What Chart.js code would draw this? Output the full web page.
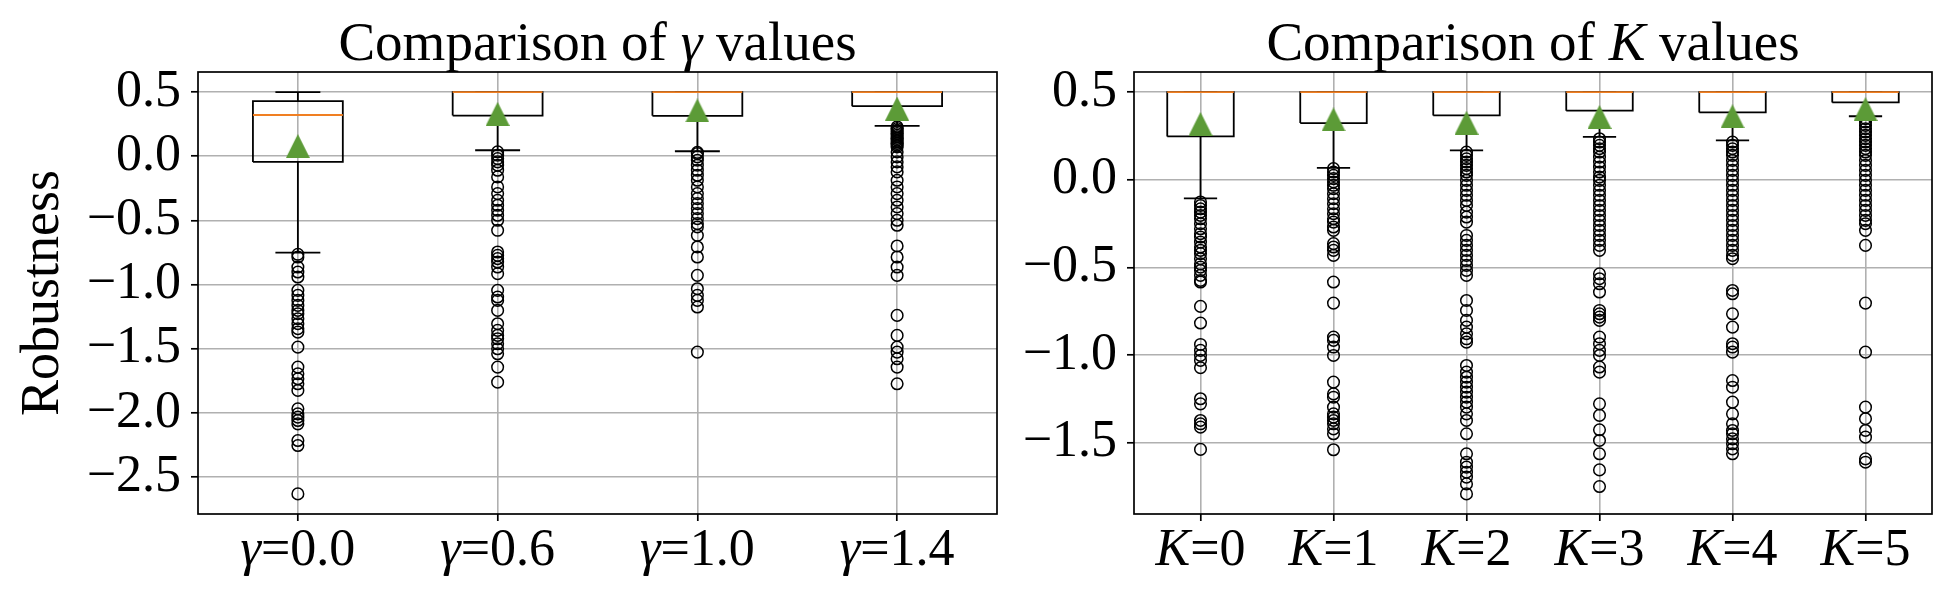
<!DOCTYPE html>
<html>
<head>
<meta charset="utf-8">
<script src="https://cdn.jsdelivr.net/npm/chart.js@4.4.1/dist/chart.umd.min.js"></script>
<style>
  body { margin: 0; background: #fff; width: 1950px; height: 600px; overflow: hidden; }
  .panel { position: absolute; top: 0; height: 600px; }
  #left { left: 0; width: 1010px; }
  #right { left: 1010px; width: 940px; }
</style>
</head>
<body>
<div class="panel" id="left"><canvas id="gammaChart"></canvas></div>
<div class="panel" id="right"><canvas id="kChart"></canvas></div>
<script>
// ---- gamma comparison ----
const gammaLabels = ['0.0', '0.6', '1.0', '1.4'];
const gammaQ1 = [-0.044, 0.317, 0.315, 0.390];
const gammaMedian = [0.322, 0.5, 0.5, 0.5];
const gammaQ3 = [0.43, 0.5, 0.5, 0.5];
const gammaMean = [0.079, 0.33, 0.357, 0.372];
const gammaWhiskLo = [-0.751, 0.047, 0.039, 0.237];
const gammaWhiskHi = [0.5, 0.5, 0.5, 0.5];
const gammaTicks = [0.5, 0, -0.5, -1, -1.5, -2, -2.5];

const fliersGamma00 = [-0.764, -0.785, -0.863, -0.902, -0.941, -1.045, -1.084, -1.123, -1.162, -1.201,
  -1.227, -1.266, -1.305, -1.344, -1.370, -1.487, -1.643, -1.695, -1.734, -1.773, -1.825, -1.968,
  -2.007, -2.033, -2.059, -2.085, -2.215, -2.254, -2.631];
const fliersGamma06 = [0.034, 0.008, -0.018, -0.044, -0.070, -0.109, -0.161, -0.239, -0.291, -0.343,
  -0.382, -0.421, -0.460, -0.499, -0.577, -0.746, -0.772, -0.798, -0.824, -0.863, -0.915, -1.045,
  -1.097, -1.123, -1.201, -1.305, -1.357, -1.396, -1.422, -1.461, -1.500, -1.539, -1.643, -1.760];
const fliersGamma10 = [0.030, 0.021, -0.005, -0.031, -0.070, -0.109, -0.148, -0.187, -0.239, -0.291,
  -0.330, -0.369, -0.408, -0.447, -0.486, -0.525, -0.551, -0.616, -0.707, -0.785, -0.928, -1.032,
  -1.084, -1.123, -1.175, -1.526];
const fliersGamma14 = [0.229, 0.216, 0.203, 0.190, 0.177, 0.164, 0.151, 0.138, 0.125, 0.112, 0.099,
  0.086, 0.073, 0.034, -0.005, -0.044, -0.083, -0.122, -0.187, -0.239, -0.291, -0.343, -0.395, -0.447,
  -0.499, -0.538, -0.699, -0.785, -0.863, -0.928, -1.240, -1.396, -1.487, -1.526, -1.578, -1.643, -1.773];

// ---- K comparison ----
const kLabels = ['0', '1', '2', '3', '4', '5'];
const kQ1 = [0.247, 0.323, 0.367, 0.394, 0.384, 0.441];
const kMedian = [0.5, 0.5, 0.5, 0.5, 0.5, 0.5];
const kQ3 = [0.5, 0.5, 0.5, 0.5, 0.5, 0.5];
const kMean = [0.318, 0.344, 0.325, 0.358, 0.362, 0.403];
const kWhiskLo = [-0.107, 0.067, 0.167, 0.245, 0.225, 0.362];
const kWhiskHi = [0.5, 0.5, 0.5, 0.5, 0.5, 0.5];
const kTicks = [0.5, 0, -0.5, -1, -1.5];

const fliersK0 = [-0.127, -0.147, -0.166, -0.185, -0.204, -0.223, -0.251, -0.280, -0.308, -0.327,
  -0.356, -0.384, -0.403, -0.422, -0.451, -0.480, -0.499, -0.518, -0.546, -0.575, -0.584, -0.723,
  -0.818, -0.940, -0.974, -1.003, -1.031, -1.073, -1.250, -1.279, -1.374, -1.393, -1.412, -1.539];
const fliersK1 = [0.063, 0.044, 0.025, 0.006, -0.013, -0.032, -0.051, -0.080, -0.108, -0.137, -0.166,
  -0.194, -0.223, -0.242, -0.270, -0.289, -0.365, -0.384, -0.403, -0.432, -0.584, -0.704, -0.898,
  -0.917, -0.955, -1.003, -1.155, -1.222, -1.241, -1.298, -1.336, -1.355, -1.374, -1.393, -1.422,
  -1.450, -1.541];
const fliersK2 = [0.158, 0.139, 0.120, 0.101, 0.082, 0.063, 0.044, 0.025, -0.004, -0.032, -0.061,
  -0.089, -0.118, -0.147, -0.185, -0.213, -0.242, -0.318, -0.346, -0.375, -0.403, -0.432, -0.461,
  -0.489, -0.518, -0.546, -0.689, -0.746, -0.803, -0.841, -0.879, -0.908, -0.927, -1.060, -1.098,
  -1.127, -1.155, -1.184, -1.212, -1.241, -1.269, -1.298, -1.336, -1.374, -1.450, -1.564, -1.612,
  -1.640, -1.669, -1.697, -1.736, -1.793];
const fliersK3 = [0.234, 0.215, 0.196, 0.177, 0.158, 0.129, 0.101, 0.072, 0.044, 0.015, -0.004,
  -0.032, -0.061, -0.089, -0.118, -0.147, -0.175, -0.204, -0.232, -0.261, -0.289, -0.318, -0.346,
  -0.375, -0.403, -0.537, -0.565, -0.594, -0.641, -0.746, -0.765, -0.784, -0.803, -0.898, -0.936,
  -0.974, -1.003, -1.069, -1.098, -1.279, -1.345, -1.427, -1.488, -1.564, -1.656, -1.751];
const fliersK4 = [0.215, 0.196, 0.177, 0.158, 0.139, 0.110, 0.082, 0.053, 0.025, -0.004, -0.032,
  -0.061, -0.089, -0.118, -0.147, -0.175, -0.204, -0.232, -0.261, -0.289, -0.318, -0.346, -0.375,
  -0.403, -0.432, -0.451, -0.632, -0.651, -0.765, -0.841, -0.936, -0.955, -0.984, -1.146, -1.184,
  -1.269, -1.336, -1.393, -1.431, -1.450, -1.479, -1.507, -1.536, -1.564];
const fliersK5 = [0.348, 0.329, 0.310, 0.291, 0.272, 0.253, 0.234, 0.215, 0.196, 0.177, 0.158,
  0.139, 0.110, 0.082, 0.053, 0.025, -0.004, -0.032, -0.061, -0.089, -0.118, -0.147, -0.175, -0.204,
  -0.232, -0.251, -0.289, -0.375, -0.704, -0.984, -1.298, -1.364, -1.431, -1.469, -1.593, -1.612];

const gammaFliers = [fliersGamma00, fliersGamma06, fliersGamma10, fliersGamma14];
const kFliers = [fliersK0, fliersK1, fliersK2, fliersK3, fliersK4, fliersK5];

const FONT = '"Liberation Serif", "Times New Roman", serif';
const ORANGE = '#f07f22';
const GREEN = '#5c9b37';

// matplotlib style '^' marker (as wide as it is tall)
const triangle = document.createElement('canvas');
triangle.width = 24;
triangle.height = 24;
(function () {
  const c = triangle.getContext('2d');
  c.fillStyle = GREEN;
  c.beginPath();
  c.moveTo(12, 0);
  c.lineTo(24, 24);
  c.lineTo(0, 24);
  c.closePath();
  c.fill();
})();

function drawMixed(ctx, parts, cx, y, size) {
  const fonts = parts.map(p => (p[1] ? 'italic ' : '') + size + 'px ' + FONT);
  const widths = parts.map((p, i) => { ctx.font = fonts[i]; return ctx.measureText(p[0]).width; });
  let x = cx - widths.reduce((a, b) => a + b, 0) / 2;
  parts.forEach((p, i) => {
    ctx.font = fonts[i];
    ctx.fillText(p[0], x, y);
    x += widths[i];
  });
}

// title and x labels with an italic symbol, plus the full axes frame
const mathText = {
  id: 'mathText',
  afterDraw(chart, args, opts) {
    const { ctx, chartArea } = chart;
    const xs = chart.scales.x;
    ctx.save();
    ctx.strokeStyle = '#000';
    ctx.lineWidth = 1.7;
    ctx.strokeRect(chartArea.left, chartArea.top, chartArea.right - chartArea.left, chartArea.bottom - chartArea.top);
    ctx.fillStyle = '#000';
    ctx.textAlign = 'left';
    ctx.textBaseline = 'alphabetic';
    drawMixed(ctx, [['Comparison of ', false], [opts.symbol, true], [' values', false]],
      (chartArea.left + chartArea.right) / 2, 60, 55);
    opts.labels.forEach((lab, i) => {
      drawMixed(ctx, [[opts.symbol, true], ['=' + lab, false]], xs.getPixelForValue(i + 1), xs.top + 51, 52);
    });
    ctx.restore();
  }
};

function boxPoints(q1, q3, half) {
  const pts = [];
  q1.forEach((lo, i) => {
    const p = i + 1, hi = q3[i];
    pts.push({ x: p - half, y: lo }, { x: p + half, y: lo }, { x: p + half, y: hi },
      { x: p - half, y: hi }, { x: p - half, y: lo }, { x: p, y: null });
  });
  return pts;
}

function whiskerPoints(q1, q3, lo, hi, cap) {
  const pts = [];
  q1.forEach((v, i) => {
    const p = i + 1;
    pts.push({ x: p, y: v }, { x: p, y: lo[i] }, { x: p, y: null },
      { x: p, y: q3[i] }, { x: p, y: hi[i] }, { x: p, y: null },
      { x: p - cap, y: lo[i] }, { x: p + cap, y: lo[i] }, { x: p, y: null },
      { x: p - cap, y: hi[i] }, { x: p + cap, y: hi[i] }, { x: p, y: null });
  });
  return pts;
}

function medianPoints(med, half) {
  const pts = [];
  med.forEach((v, i) => {
    pts.push({ x: i + 1 - half, y: v }, { x: i + 1 + half, y: v }, { x: i + 1, y: null });
  });
  return pts;
}

function fmt(v) {
  return (v < 0 ? '\u2212' : '') + Math.abs(v).toFixed(1);
}

function makeChart(canvasId, g) {
  const all = g.fliers.flat().concat(g.whiskHi, g.whiskLo);
  const lo = Math.min(...all), hi = Math.max(...all);
  const margin = (hi - lo) * 0.05;
  const n = g.labels.length;
  const half = g.width / 2;

  new Chart(document.getElementById(canvasId), {
    type: 'scatter',
    data: {
      datasets: [
        {
          data: g.mean.map((v, i) => ({ x: i + 1, y: v })),
          pointStyle: triangle, pointRadius: 12
        },
        {
          data: medianPoints(g.median, half), showLine: true, pointRadius: 0,
          borderColor: ORANGE, borderWidth: 1.9
        },
        {
          data: boxPoints(g.q1, g.q3, half), showLine: true, pointRadius: 0,
          borderColor: '#000', borderWidth: 1.8, borderJoinStyle: 'miter'
        },
        {
          data: whiskerPoints(g.q1, g.q3, g.whiskLo, g.whiskHi, half / 2), showLine: true, pointRadius: 0,
          borderColor: '#000', borderWidth: 1.8
        },
        {
          data: g.fliers.flatMap((arr, i) => arr.map(v => ({ x: i + 1, y: v }))),
          pointStyle: 'circle', pointRadius: 5.8, borderWidth: 1.5,
          borderColor: '#000', backgroundColor: 'rgba(0,0,0,0)'
        }
      ]
    },
    options: {
      responsive: true,
      maintainAspectRatio: false,
      animation: false,
      layout: { padding: { top: 72, right: g.padRight, left: 0, bottom: 0 } },
      plugins: {
        legend: { display: false },
        tooltip: { enabled: false },
        mathText: { symbol: g.symbol, labels: g.labels }
      },
      scales: {
        x: {
          type: 'linear',
          min: 0.5,
          max: n + 0.5,
          afterBuildTicks: s => { s.ticks = g.labels.map((l, i) => ({ value: i + 1 })); },
          afterFit: s => { s.height = 86; },
          ticks: { display: false },
          border: { display: false },
          grid: { color: '#b0b0b0', lineWidth: 1.6, tickColor: '#000', tickWidth: 1.7, tickLength: 7 }
        },
        y: {
          min: lo - margin,
          max: hi + margin,
          afterBuildTicks: s => { s.ticks = g.ticks.map(v => ({ value: v })); },
          afterFit: s => { s.width = g.axisWidth; },
          ticks: {
            color: '#000', padding: 10,
            font: { family: FONT, size: 52 },
            callback: v => fmt(v)
          },
          border: { display: false },
          grid: { color: '#b0b0b0', lineWidth: 1.6, tickColor: '#000', tickWidth: 1.7, tickLength: 7 },
          title: {
            display: g.yTitle !== '',
            text: g.yTitle,
            color: '#000',
            font: { family: FONT, size: 54 },
            padding: { top: 11, bottom: 0 }
          }
        }
      }
    },
    plugins: [mathText]
  });
}

makeChart('gammaChart', {
  labels: gammaLabels, symbol: 'γ', q1: gammaQ1, q3: gammaQ3, median: gammaMedian, mean: gammaMean,
  whiskLo: gammaWhiskLo, whiskHi: gammaWhiskHi, fliers: gammaFliers, ticks: gammaTicks,
  width: 0.45, axisWidth: 198, padRight: 13, yTitle: 'Robustness'
});

makeChart('kChart', {
  labels: kLabels, symbol: 'K', q1: kQ1, q3: kQ3, median: kMedian, mean: kMean,
  whiskLo: kWhiskLo, whiskHi: kWhiskHi, fliers: kFliers, ticks: kTicks,
  width: 0.5, axisWidth: 124, padRight: 18, yTitle: ''
});
</script>
</body>
</html>
